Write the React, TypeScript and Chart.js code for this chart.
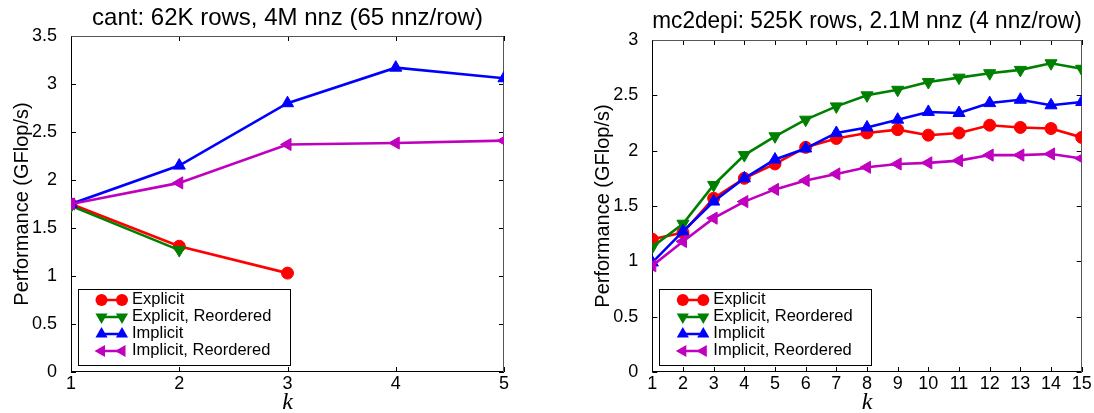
import React, { useEffect, useRef } from 'react';
import { Chart, registerables } from 'chart.js';

Chart.register(...registerables);

// ---------- data ----------
const SERIES_LABELS = ['Explicit', 'Explicit, Reordered', 'Implicit', 'Implicit, Reordered'];

const cantK = [1, 2, 3, 4, 5];
const cantExplicit = [1.75, 1.31, 1.03];
const cantExplicitReordered = [1.73, 1.27];
const cantImplicit = [1.75, 2.15, 2.8, 3.17, 3.06];
const cantImplicitReordered = [1.75, 1.97, 2.37, 2.385, 2.41];

const mcK = [1, 2, 3, 4, 5, 6, 7, 8, 9, 10, 11, 12, 13, 14, 15];
const mcExplicit = [1.2, 1.26, 1.57, 1.75, 1.88, 2.03, 2.11, 2.16, 2.19, 2.14, 2.16, 2.23, 2.21, 2.2, 2.12];
const mcExplicitReordered = [1.13, 1.34, 1.69, 1.96, 2.13, 2.28, 2.4, 2.5, 2.55, 2.62, 2.66, 2.7, 2.73, 2.79, 2.74];
const mcImplicit = [0.99, 1.27, 1.54, 1.75, 1.92, 2.02, 2.16, 2.21, 2.28, 2.35, 2.34, 2.43, 2.46, 2.41, 2.44];
const mcImplicitReordered = [0.96, 1.18, 1.39, 1.54, 1.65, 1.73, 1.79, 1.85, 1.88, 1.89, 1.91, 1.96, 1.96, 1.97, 1.93];

const CANT_TITLE = 'cant: 62K rows, 4M nnz (65 nnz/row)';
const MC_TITLE = 'mc2depi: 525K rows, 2.1M nnz (4 nnz/row)';
const Y_TITLE = 'Performance (GFlop/s)';
const X_TITLE = 'k';

// ---------- styles ----------
const COLORS = ['#ff0000', '#008000', '#0000ff', '#bf00bf'];
const MARKERS = [
  { pointStyle: 'circle', rotation: 0, radius: 6 },
  { pointStyle: 'triangle', rotation: 180, radius: 7 },
  { pointStyle: 'triangle', rotation: 0, radius: 7 },
  { pointStyle: 'triangle', rotation: -90, radius: 7 },
];
const SANS = "'Liberation Sans', Arial, Helvetica, sans-serif";

function drawMarker(ctx: CanvasRenderingContext2D, idx: number, x: number, y: number) {
  const m = MARKERS[idx];
  ctx.beginPath();
  if (m.pointStyle === 'circle') {
    ctx.arc(x, y, m.radius, 0, Math.PI * 2);
  } else {
    let rad = (m.rotation * Math.PI) / 180;
    const r = m.radius;
    ctx.moveTo(x + Math.sin(rad) * r, y - Math.cos(rad) * r);
    rad += (2 * Math.PI) / 3;
    ctx.lineTo(x + Math.sin(rad) * r, y - Math.cos(rad) * r);
    rad += (2 * Math.PI) / 3;
    ctx.lineTo(x + Math.sin(rad) * r, y - Math.cos(rad) * r);
    ctx.closePath();
  }
  ctx.fill();
}

const framePlugin = {
  id: 'frame',
  beforeDatasetsDraw(chart: any) {
    const { ctx, chartArea } = chart;
    const { left, right, top, bottom } = chartArea;
    const xs = chart.scales.x;
    const ys = chart.scales.y;
    const tl = 5;
    ctx.save();
    ctx.lineWidth = 1;
    ctx.strokeStyle = '#000';
    ctx.beginPath();
    xs.ticks.forEach((t: any) => {
      const px = Math.round(xs.getPixelForValue(t.value)) + 0.5;
      ctx.moveTo(px, bottom);
      ctx.lineTo(px, bottom - tl);
      ctx.moveTo(px, top);
      ctx.lineTo(px, top + tl);
    });
    ys.ticks.forEach((t: any) => {
      const py = Math.round(ys.getPixelForValue(t.value)) + 0.5;
      ctx.moveTo(left, py);
      ctx.lineTo(left + tl, py);
      ctx.moveTo(right, py);
      ctx.lineTo(right - tl, py);
    });
    ctx.stroke();
    const L = Math.round(left) + 0.5;
    const R = Math.round(right) - 0.5;
    const T = Math.round(top) + 0.5;
    const B = Math.round(bottom) - 0.5;
    ctx.strokeStyle = '#000';
    ctx.beginPath();
    ctx.moveTo(L, T);
    ctx.lineTo(L, B);
    ctx.lineTo(R, B);
    ctx.stroke();
    ctx.strokeStyle = '#555';
    ctx.beginPath();
    ctx.moveTo(L, T);
    ctx.lineTo(R, T);
    ctx.lineTo(R, B);
    ctx.stroke();
    ctx.restore();
  },
};

const boxLegendPlugin = {
  id: 'boxLegend',
  afterDatasetsDraw(chart: any, _args: any, opts: any) {
    const { ctx, chartArea } = chart;
    const bx = chartArea.left + opts.offsetX;
    const by = chartArea.bottom - opts.offsetY - opts.height;
    ctx.save();
    ctx.fillStyle = '#fff';
    ctx.fillRect(bx, by, opts.width, opts.height);
    ctx.strokeStyle = '#000';
    ctx.lineWidth = 1;
    ctx.strokeRect(Math.round(bx) + 0.5, Math.round(by) + 0.5, opts.width, opts.height);
    ctx.font = `16.5px ${SANS}`;
    ctx.textBaseline = 'middle';
    ctx.textAlign = 'left';
    SERIES_LABELS.forEach((label, i) => {
      const cy = by + opts.firstRow + i * opts.rowGap;
      const x1 = bx + opts.mark1;
      const x2 = bx + opts.mark2;
      ctx.strokeStyle = COLORS[i];
      ctx.fillStyle = COLORS[i];
      ctx.lineWidth = 2.5;
      ctx.beginPath();
      ctx.moveTo(x1, cy + 1);
      ctx.lineTo(x2, cy + 1);
      ctx.stroke();
      drawMarker(ctx, i, x1, cy + 1);
      drawMarker(ctx, i, x2, cy + 1);
      ctx.fillStyle = '#000';
      ctx.fillText(label, bx + opts.textX, cy);
    });
    ctx.restore();
  },
};

function buildDatasets(ks: number[], series: number[][]) {
  return series.map((vals, i) => ({
    label: SERIES_LABELS[i],
    data: vals.map((v, j) => ({ x: ks[j], y: v })),
    borderColor: COLORS[i],
    backgroundColor: COLORS[i],
    pointBackgroundColor: COLORS[i],
    pointBorderColor: COLORS[i],
    pointBorderWidth: 1,
    pointStyle: MARKERS[i].pointStyle,
    rotation: MARKERS[i].rotation,
    pointRadius: MARKERS[i].radius,
    borderWidth: 2.6,
    tension: 0,
    clip: 0,
    order: 4 - i,
  }));
}

interface PanelProps {
  left: number;
  width: number;
  ks: number[];
  series: number[][];
  title: string;
  yMax: number;
  yAxisWidth: number;
  yTitlePad: number;
  padRight: number;
  titlePadTop: number;
  titlePadBottom: number;
}

function Panel(p: PanelProps) {
  const ref = useRef<HTMLCanvasElement | null>(null);
  useEffect(() => {
    if (!ref.current) return;
    const chart = new Chart(ref.current, {
      type: 'line',
      data: { datasets: buildDatasets(p.ks, p.series) as any },
      plugins: [framePlugin, boxLegendPlugin],
      options: {
        responsive: false,
        animation: false,
        devicePixelRatio: 1,
        layout: { padding: { left: 0, right: p.padRight, top: 0, bottom: 0 } },
        scales: {
          x: {
            type: 'linear',
            min: p.ks[0],
            max: p.ks[p.ks.length - 1],
            grid: { display: false },
            border: { display: false },
            ticks: {
              stepSize: 1,
              padding: -7,
              color: '#000',
              font: { family: SANS, size: 18 },
              maxRotation: 0,
              autoSkip: false,
              callback: (v: any) => String(+v),
            },
            title: {
              display: true,
              text: X_TITLE,
              color: '#000',
              font: { family: "'Liberation Serif', 'Times New Roman', serif", size: 24, style: 'italic', lineHeight: 1 },
              padding: { top: 0, bottom: -2 },
            },
            afterFit: (s: any) => {
              s.height = 41;
            },
          } as any,
          y: {
            type: 'linear',
            min: 0,
            max: p.yMax,
            grid: { display: false },
            border: { display: false },
            ticks: {
              stepSize: 0.5,
              padding: 6,
              color: '#000',
              font: { family: SANS, size: 18 },
              callback: (v: any) => String(+(+v).toFixed(2)),
            },
            title: {
              display: true,
              text: Y_TITLE,
              color: '#000',
              font: { family: SANS, size: 20, lineHeight: 1.2 },
              padding: { top: p.yTitlePad, bottom: 0 },
            },
            afterFit: (s: any) => {
              s.width = p.yAxisWidth;
            },
          } as any,
        },
        plugins: {
          legend: { display: false },
          tooltip: { enabled: false },
          title: {
            display: true,
            text: p.title,
            color: '#000',
            fullSize: false,
            font: { family: SANS, size: 24, weight: 'normal', lineHeight: 1.2 },
            padding: { top: p.titlePadTop, bottom: p.titlePadBottom },
          },
          boxLegend: {
            offsetX: 7,
            offsetY: 7,
            width: 212,
            height: 76,
            firstRow: 10,
            rowGap: 17,
            mark1: 23.5,
            mark2: 44,
            textX: 54,
          },
        } as any,
      },
    });
    return () => chart.destroy();
  }, []);
  return (
    <canvas
      ref={ref}
      width={p.width}
      height={413}
      style={{ position: 'absolute', left: p.left, top: 0, width: p.width, height: 413 }}
    />
  );
}

export default function App() {
  return (
    <div style={{ position: 'fixed', left: 0, top: 0, width: 1094, height: 413, background: '#fff', overflow: 'hidden' }}>
      <Panel
        left={0}
        width={540}
        ks={cantK}
        series={[cantExplicit, cantExplicitReordered, cantImplicit, cantImplicitReordered]}
        title={CANT_TITLE}
        yMax={3.5}
        yAxisWidth={71}
        yTitlePad={10}
        padRight={36}
        titlePadTop={4}
        titlePadBottom={3.2}
      />
      <Panel
        left={550}
        width={544}
        ks={mcK}
        series={[mcExplicit, mcExplicitReordered, mcImplicit, mcImplicitReordered]}
        title={MC_TITLE}
        yMax={3}
        yAxisWidth={102.3}
        yTitlePad={41}
        padRight={12.3}
        titlePadTop={6.6}
        titlePadBottom={4.6}
      />
    </div>
  );
}
